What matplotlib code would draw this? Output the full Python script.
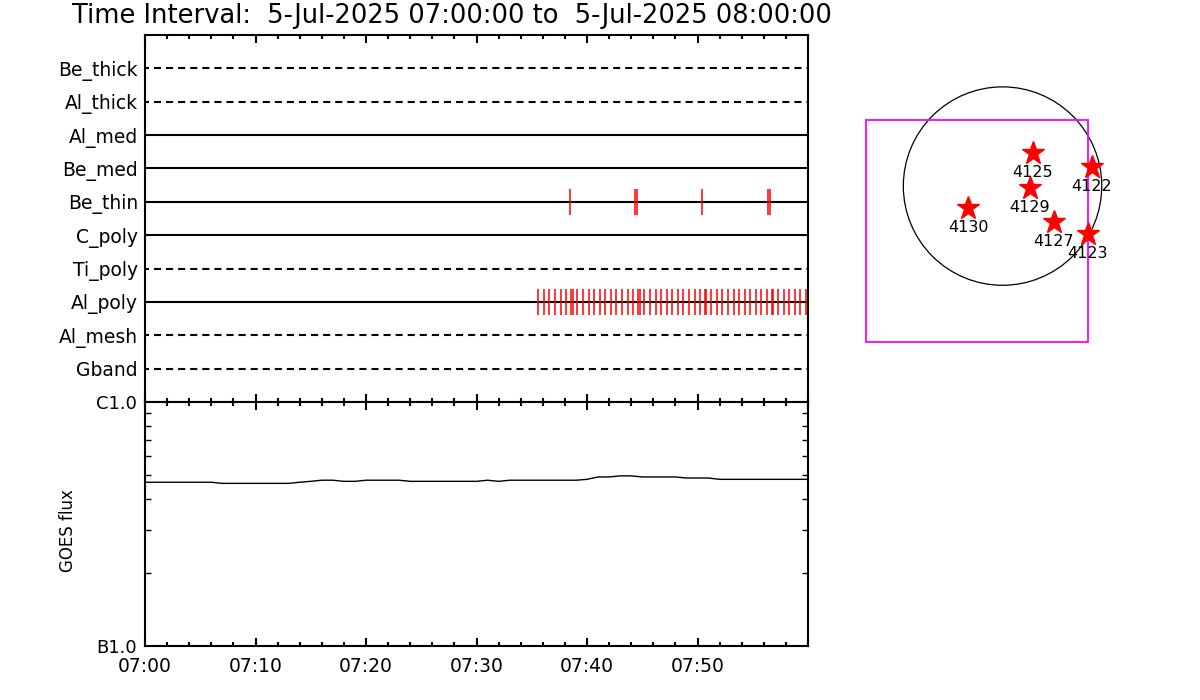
import matplotlib
matplotlib.use("Agg")
import matplotlib.pyplot as plt
from matplotlib.ticker import MultipleLocator, FixedLocator, NullFormatter
from matplotlib.patches import Circle, Rectangle

plt.rcParams['font.family'] = ['DejaVu Sans']

# ---------------- data ----------------
title = "Time Interval:  5-Jul-2025 07:00:00 to  5-Jul-2025 08:00:00"

detectors = ['Be_thick', 'Al_thick', 'Al_med', 'Be_med', 'Be_thin',
             'C_poly', 'Ti_poly', 'Al_poly', 'Al_mesh', 'Gband']
dashed = [True, True, False, False, False, False, True, False, True, True]

# exposure times, minutes after 07:00
be_thin_times = [38.42, 44.37, 44.49, 50.43, 56.41, 56.53]
al_poly_times = [35.59, 36.11, 36.59, 37.10, 37.62, 38.13, 38.58, 38.70, 39.12,
                 39.64, 40.15, 40.63, 41.15, 41.66, 42.17, 42.65, 43.17, 43.68,
                 44.19, 44.65, 44.77, 45.19, 45.70, 46.22, 46.70, 47.21, 47.72,
                 48.21, 48.72, 49.23, 49.75, 50.23, 50.68, 50.80, 51.25, 51.76,
                 52.24, 52.76, 53.27, 53.76, 54.27, 54.78, 55.29, 55.77, 56.29,
                 56.71, 56.83, 57.29, 57.80, 58.31, 58.79, 59.30, 59.79]
exposures = {'Be_thin': be_thin_times, 'Al_poly': al_poly_times}

# GOES 1-8 A flux, 1e-7 W/m^2, one value per minute 07:00 .. 08:00
goes_minutes = list(range(61))
goes_flux = [4.69, 4.69, 4.69, 4.69, 4.69, 4.69, 4.69,
             4.64, 4.64, 4.64, 4.64, 4.64, 4.64, 4.64,
             4.69, 4.73, 4.78, 4.78, 4.73, 4.73,
             4.78, 4.78, 4.78, 4.78,
             4.73, 4.73, 4.73, 4.73, 4.73, 4.73, 4.73,
             4.78, 4.73,
             4.78, 4.78, 4.78, 4.78, 4.78, 4.78, 4.78,
             4.82, 4.93, 4.93, 4.98, 4.98,
             4.93, 4.93, 4.93, 4.93,
             4.88, 4.88, 4.88,
             4.82, 4.82, 4.82, 4.82, 4.82, 4.82, 4.82, 4.82, 4.82]

time_tick_minutes = [0, 10, 20, 30, 40, 50, 60]
time_tick_labels = ['07:00', '07:10', '07:20', '07:30', '07:40', '07:50', '']
goes_tick_values = [1e-7, 1e-6]
goes_tick_labels = ['B1.0', 'C1.0']

# active regions (arcsec from disk centre)
ar_numbers = ['4125', '4122', '4129', '4130', '4127', '4123']
ar_x = [292, 863, 266, -331, 495, 824]
ar_y = [323, 188, -21, -209, -350, -466]
sun_radius = 960
fov_x = [-1324, 830]
fov_y = [-1509, 637]

# ---------------- figure ----------------
fig = plt.figure(figsize=(12, 7), dpi=100)
fig.text(72 / 1200, 1 - 16 / 700, title, ha='left', va='center', fontsize=18.5)

# top panel: filter timeline
ax1 = fig.add_axes([145 / 1200, 1 - 402 / 700, 663 / 1200, 367 / 700])
ax1.set_xlim(0, 60)
ax1.set_ylim(0, len(detectors) + 1)
ypos = list(range(len(detectors), 0, -1))
for name, y, d in zip(detectors, ypos, dashed):
    ax1.plot([0, 60], [y, y], color='black', lw=1.5,
             ls=(1.5, (3.4, 2.4)) if d else '-', solid_capstyle='butt')
    if name in exposures:
        ax1.vlines(exposures[name], y - 0.39, y + 0.39, colors='red', lw=1.1)
ax1.set_yticks(ypos)
ax1.set_yticklabels(detectors)
ax1.tick_params(axis='y', length=0, pad=5, labelsize=13.5)
ax1.xaxis.set_major_locator(MultipleLocator(10))
ax1.xaxis.set_minor_locator(MultipleLocator(2))
ax1.tick_params(axis='x', which='both', direction='in', top=True, bottom=True,
                labelbottom=False, width=1.5)
ax1.tick_params(axis='x', which='major', length=6)
ax1.tick_params(axis='x', which='minor', length=3)
for s in ax1.spines.values():
    s.set_linewidth(1.5)

# bottom panel: GOES flux
ax2 = fig.add_axes([145 / 1200, 1 - 646 / 700, 663 / 1200, 244 / 700])
ax2.plot(goes_minutes, [f * 1e-7 for f in goes_flux], color='black', lw=1)
ax2.set_yscale('log')
ax2.set_ylim(1e-7, 1e-6)
ax2.set_xlim(0, 60)
ax2.yaxis.set_major_locator(FixedLocator(goes_tick_values))
ax2.set_yticklabels(goes_tick_labels)
ax2.yaxis.set_minor_locator(FixedLocator([k * 1e-7 for k in range(2, 10)]))
ax2.yaxis.set_minor_formatter(NullFormatter())
ax2.tick_params(axis='y', which='both', direction='in', left=True, right=True,
                labelsize=13, pad=6)
ax2.tick_params(axis='y', which='major', length=0)
ax2.tick_params(axis='y', which='minor', length=4.5, width=1)
ax2.xaxis.set_major_locator(FixedLocator(time_tick_minutes))
ax2.set_xticklabels(time_tick_labels)
ax2.xaxis.set_minor_locator(MultipleLocator(2))
ax2.tick_params(axis='x', which='both', direction='in', top=True, bottom=True,
                width=1.5, labelsize=13.5, pad=8)
ax2.tick_params(axis='x', which='major', length=6)
ax2.tick_params(axis='x', which='minor', length=3)
for s in ax2.spines.values():
    s.set_linewidth(1.5)
fig.text(68 / 1200, 1 - 531 / 700, 'GOES flux', rotation=90,
         ha='center', va='center', fontsize=12)

# right panel: solar disk with active regions and field of view
ax3 = fig.add_axes([850 / 1200, 1 - 360 / 700, 300 / 1200, 300 / 700])
ax3.set_xlim(-1476, 1427)
ax3.set_ylim(-1683, 1220)
ax3.axis('off')
ax3.add_patch(Circle((0, 0), sun_radius, fill=False, ec='black', lw=0.9))
ax3.add_patch(Rectangle((fov_x[0], fov_y[0]), fov_x[1] - fov_x[0],
                        fov_y[1] - fov_y[0], fill=False, ec='magenta', lw=1.3))
ax3.plot(ar_x, ar_y, ls='none', marker='*', ms=17, color='red', mec='red')
for n, x, y in zip(ar_numbers, ar_x, ar_y):
    ax3.annotate(n, (x, y), xytext=(0, -14), textcoords='offset points',
                 ha='center', va='center', fontsize=11.5)

fig.savefig('out.png', dpi=100)
